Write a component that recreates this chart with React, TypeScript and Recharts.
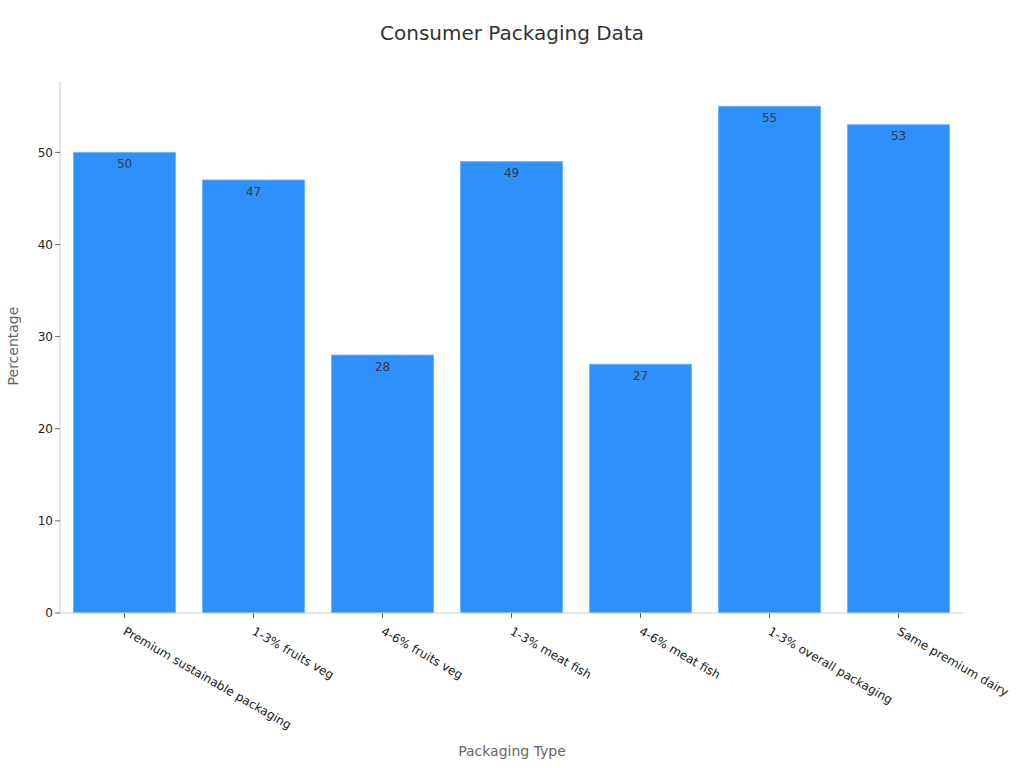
import React from 'react';
import { BarChart, Bar, XAxis, YAxis, LabelList } from 'recharts';

const categories = [
  'Premium sustainable packaging',
  '1-3% fruits veg',
  '4-6% fruits veg',
  '1-3% meat fish',
  '4-6% meat fish',
  '1-3% overall packaging',
  'Same premium dairy',
];
const percentages = [50, 47, 28, 49, 27, 55, 53];
const yTicks = [0, 10, 20, 30, 40, 50];

const data = categories.map((name, i) => ({ name, value: percentages[i] }));

const FONT = '"DejaVu Sans", sans-serif';

const XTick = (props: any) => {
  const { x, y, payload } = props;
  return (
    <g transform={`translate(${x},${y})`}>
      <text
        x={0}
        y={0}
        dx={5}
        dy={13}
        transform="rotate(30)"
        textAnchor="start"
        fill="#222"
        fontSize={12}
        fontFamily={FONT}
      >
        {payload.value}
      </text>
    </g>
  );
};

export default function App() {
  return (
    <div style={{ position: 'absolute', left: 0, top: 0, width: 1024, height: 768, background: '#fff', fontFamily: FONT }}>
      <div style={{ position: 'absolute', left: 0, width: 1024, top: 20, textAlign: 'center', fontSize: 20, color: '#333', lineHeight: '26px' }}>
        Consumer Packaging Data
      </div>
      <div
        style={{
          position: 'absolute',
          left: 13,
          top: 346,
          fontSize: 14,
          color: '#666',
          transform: 'translate(-50%, -50%) rotate(-90deg)',
          whiteSpace: 'nowrap',
        }}
      >
        Percentage
      </div>
      <div style={{ position: 'absolute', left: 0, width: 1024, top: 742, textAlign: 'center', fontSize: 14, color: '#666', lineHeight: '18px' }}>
        Packaging Type
      </div>
      <BarChart
        width={1024}
        height={768}
        data={data}
        margin={{ top: 81, right: 61, bottom: 0, left: 20 }}
        barCategoryGap="10.5%"
      >
        <XAxis
          dataKey="name"
          height={155}
          interval={0}
          tick={<XTick />}
          axisLine={{ stroke: '#ccc' }}
          tickLine={{ stroke: '#666' }}
          tickSize={5}
        />
        <YAxis
          width={40}
          domain={[0, 57.75]}
          ticks={yTicks}
          allowDataOverflow
          axisLine={{ stroke: '#ccc' }}
          tickLine={{ stroke: '#666' }}
          tickSize={5}
          tick={{ fill: '#222', fontSize: 12, fontFamily: FONT }}
        />
        <Bar dataKey="value" fill="#2E90FA" stroke="#6BB3FB" strokeWidth={1} isAnimationActive={false}>
          <LabelList dataKey="value" position="insideTop" offset={7} fill="#3a3a3a" fontSize={12} fontFamily={FONT} />
        </Bar>
      </BarChart>
    </div>
  );
}
